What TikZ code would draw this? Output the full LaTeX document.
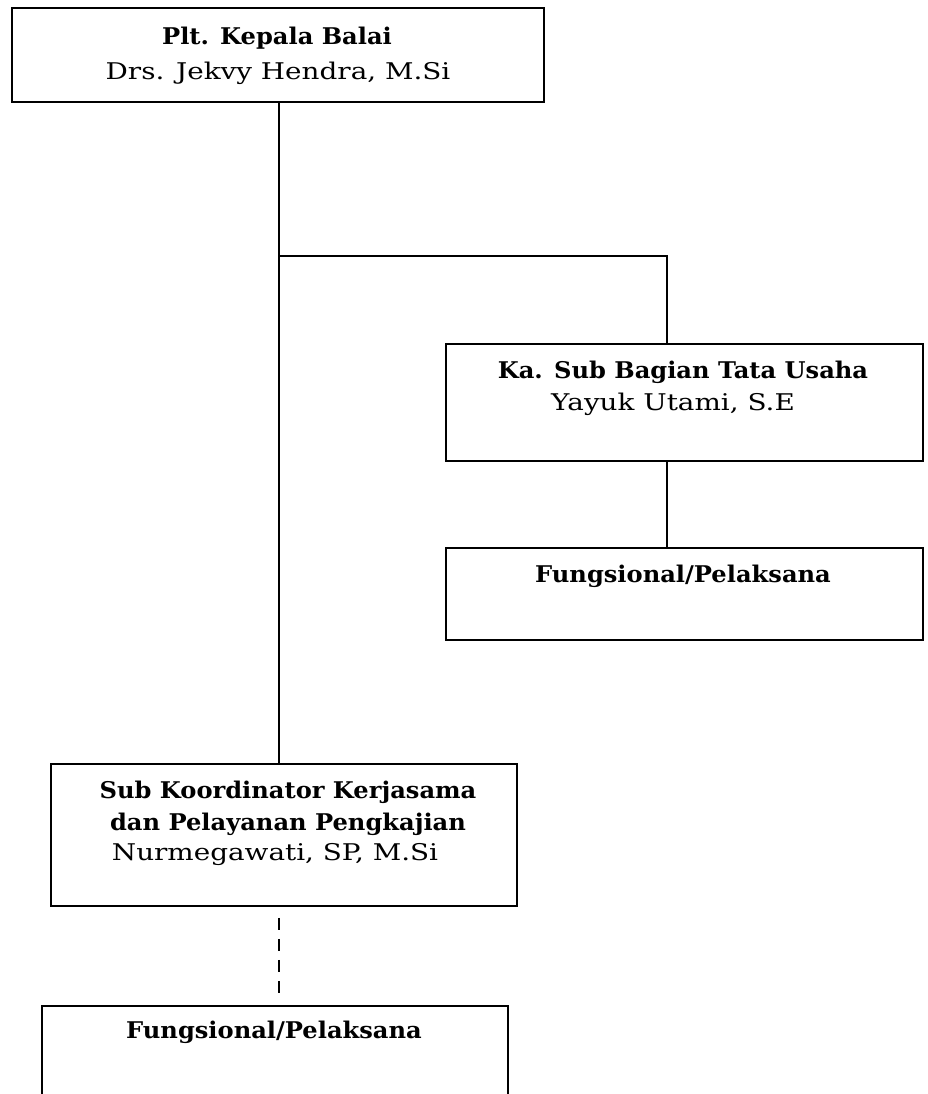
\documentclass[tikz,border=0pt]{standalone}
\usepackage{fontspec}
\setmainfont{DejaVu Serif}
\newfontfamily\ttlfont{DejaVu Serif}[FakeStretch=1.05]
\newfontfamily\nmfont{DejaVu Serif}[FakeStretch=1.21]
\begin{document}
\begin{tikzpicture}[x=1pt,y=-1pt,
  orgbox/.style={draw=black,line width=1.8pt,rectangle,inner sep=0pt,anchor=north west},
  conn/.style={draw=black,line width=1.5pt},
  dashconn/.style={draw=black,line width=1.5pt,dash pattern=on 12pt off 9pt},
  ttl/.style={anchor=base,inner sep=0pt,font=\fontsize{23}{28}\ttlfont\bfseries},
  nm/.style={anchor=base,inner sep=0pt,font=\fontsize{23}{28}\nmfont}]
\clip (0,0) rectangle (927,1094);
\fill[white] (0,0) rectangle (927,1094);
% boxes
\node[orgbox,minimum width=532pt,minimum height=94pt] (top) at (11,7) {};
\node[orgbox,minimum width=477pt,minimum height=117pt] (ka) at (445,343) {};
\node[orgbox,minimum width=477pt,minimum height=92pt] (f1) at (445,547) {};
\node[orgbox,minimum width=466pt,minimum height=142pt] (sub) at (50,763) {};
\node[orgbox,minimum width=466pt,minimum height=140pt] (f2) at (41,1005) {};
% texts
\node[ttl] (topt) at (277,45) {Plt. Kepala Balai};
\node[nm] (topn) at (278,80) {Drs. Jekvy Hendra, M.Si};
\node[ttl] (kat) at (683,378) {Ka. Sub Bagian Tata Usaha};
\node[nm] (kan) at (673,410) {Yayuk Utami, S.E};
\node[ttl] (f1t) at (683,582) {Fungsional/Pelaksana};
\node[ttl] (subt1) at (288,798) {Sub Koordinator Kerjasama};
\node[ttl] (subt2) at (288,830) {dan Pelayanan Pengkajian};
\node[nm] (subn) at (275,860) {Nurmegawati, SP, M.Si};
\node[ttl] (f2t) at (274,1038) {Fungsional/Pelaksana};
% connectors
\coordinate (j) at (279,256);
\coordinate (k) at (667,256);
\draw[conn] (j |- top.south) -- (j |- sub.north);
\draw[conn] (j) -- (k) -- (k |- ka.north);
\draw[conn] (k |- ka.south) -- (k |- f1.north);
\draw[dashconn] ([yshift=-11pt]j |- sub.south) -- ([yshift=10pt]j |- f2.north);
\end{tikzpicture}
\end{document}
